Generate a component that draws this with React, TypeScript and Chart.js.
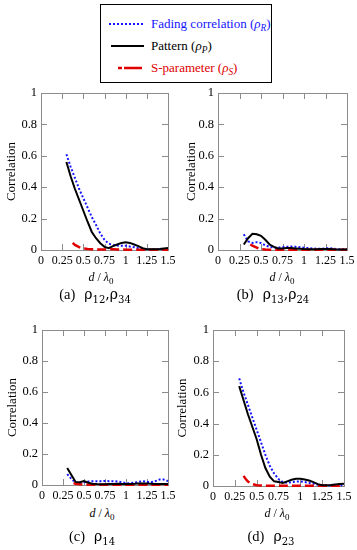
import React, { useEffect, useRef } from 'react';
import { Chart, registerables } from 'chart.js';

Chart.register(...registerables);

// ---------- data ----------
const spacingX = [0.3, 0.35, 0.4, 0.45, 0.5, 0.55, 0.6, 0.65, 0.7, 0.75, 0.8, 0.85, 0.9, 0.95, 1.0, 1.05, 1.1, 1.15, 1.2, 1.25, 1.3, 1.35, 1.4, 1.45, 1.5];
const sParamX = [0.35, 0.375, 0.4, 0.45, 0.5, 0.55, 0.6, 0.65, 0.7, 0.75, 0.8, 0.85, 0.9, 0.95, 1.0, 1.05, 1.1, 1.15, 1.2, 1.25, 1.3, 1.35, 1.4, 1.45, 1.5];
const xTickLabels = ['0', '0.25', '0.5', '0.75', '1', '1.25', '1.5'];
const yTickLabels = ['0', '0.2', '0.4', '0.6', '0.8', '1'];

// (a) rho12, rho34
const fadingA = [0.61, 0.53, 0.46, 0.39, 0.33, 0.27, 0.21, 0.16, 0.105, 0.065, 0.04, 0.032, 0.028, 0.027, 0.027, 0.022, 0.018, 0.012, 0.008, 0.005, 0.004, 0.004, 0.004, 0.005, 0.006];
const patternA = [0.56, 0.47, 0.39, 0.32, 0.25, 0.18, 0.115, 0.075, 0.043, 0.02, 0.012, 0.025, 0.035, 0.045, 0.05, 0.045, 0.035, 0.025, 0.012, 0.005, 0.004, 0.005, 0.006, 0.01, 0.012];
const sParamA = [null, 0.045, 0.032, 0.018, 0.01, 0.007, 0.005, 0.004, 0.003, 0.003, 0.004, 0.004, 0.003, 0.003, 0.002, 0.002, 0.002, 0.002, 0.001, 0.001, 0.001, 0.001, 0.001, 0.001, 0.001];

// (b) rho13, rho24
const fadingB = [0.1, 0.055, 0.045, 0.05, 0.045, 0.03, 0.02, 0.015, 0.015, 0.018, 0.02, 0.022, 0.02, 0.018, 0.015, 0.012, 0.01, 0.008, 0.008, 0.01, 0.012, 0.008, 0.005, 0.005, 0.006];
const patternB = [0.035, 0.075, 0.103, 0.1, 0.09, 0.065, 0.035, 0.02, 0.01, 0.01, 0.012, 0.012, 0.01, 0.008, 0.006, 0.005, 0.005, 0.005, 0.006, 0.007, 0.006, 0.004, 0.003, 0.003, 0.003];
const sParamB = [null, 0.035, 0.028, 0.015, 0.005, 0.003, 0.002, 0.002, 0.001, 0.001, 0.002, 0.002, 0.001, 0.001, 0.001, 0.001, 0.001, 0.001, 0.001, 0.001, 0.001, 0.001, 0.001, 0.001, 0.001];

// (c) rho14
const fadingC = [0.07, 0.04, 0.015, 0.012, 0.018, 0.022, 0.025, 0.025, 0.025, 0.026, 0.025, 0.025, 0.022, 0.018, 0.012, 0.012, 0.015, 0.02, 0.025, 0.02, 0.018, 0.025, 0.035, 0.035, 0.025];
const patternC = [0.11, 0.065, 0.02, 0.018, 0.025, 0.015, 0.008, 0.006, 0.005, 0.005, 0.006, 0.007, 0.008, 0.007, 0.006, 0.007, 0.008, 0.01, 0.01, 0.009, 0.008, 0.007, 0.007, 0.007, 0.006];
const sParamC = [null, 0.012, 0.008, 0.005, 0.003, 0.002, 0.002, 0.001, 0.001, 0.001, 0.001, 0.001, 0.001, 0.001, 0.001, 0.001, 0.001, 0.001, 0.001, 0.001, 0.001, 0.001, 0.001, 0.001, 0.001];

// (d) rho23
const fadingD = [0.69, 0.6, 0.52, 0.44, 0.36, 0.28, 0.2, 0.13, 0.08, 0.045, 0.025, 0.02, 0.025, 0.028, 0.03, 0.025, 0.02, 0.014, 0.008, 0.005, 0.003, 0.003, 0.003, 0.004, 0.005];
const patternD = [0.64, 0.55, 0.46, 0.38, 0.3, 0.2, 0.115, 0.06, 0.03, 0.025, 0.02, 0.03, 0.04, 0.047, 0.047, 0.042, 0.035, 0.025, 0.012, 0.005, 0.005, 0.007, 0.01, 0.013, 0.015];
const sParamD = [0.065, 0.045, 0.028, 0.012, 0.005, 0.003, 0.002, 0.002, 0.001, 0.001, 0.002, 0.002, 0.001, 0.001, 0.001, 0.001, 0.001, 0.001, 0.001, 0.001, 0.001, 0.001, 0.001, 0.001, 0.001];

// ---------- styles ----------
const SERIF = '"Liberation Serif", "Times New Roman", Tinos, serif';
const MATH = '"DejaVu Serif", "Liberation Serif", serif';
const BLUE = '#1414ff';
const RED = '#e00000';
const AXIS_GRAY = '#8c8c8c';

const boxPlugin = {
  id: 'boxTicks',
  beforeDatasetsDraw(chart: any) {
    const { ctx, chartArea, scales } = chart;
    const { left, right, top, bottom } = chartArea;
    const xs = scales.x;
    const ys = scales.y;
    const len = 6;
    ctx.save();
    ctx.strokeStyle = AXIS_GRAY;
    ctx.lineWidth = 1;
    ctx.strokeRect(Math.round(left) + 0.5, Math.round(top) + 0.5, Math.round(right - left), Math.round(bottom - top));
    ctx.beginPath();
    xs.ticks.forEach((t: any) => {
      const px = Math.round(xs.getPixelForValue(t.value)) + 0.5;
      ctx.moveTo(px, top);
      ctx.lineTo(px, top + len);
      ctx.moveTo(px, bottom);
      ctx.lineTo(px, bottom - len);
    });
    ys.ticks.forEach((t: any) => {
      const py = Math.round(ys.getPixelForValue(t.value)) + 0.5;
      ctx.moveTo(left, py);
      ctx.lineTo(left + len, py);
      ctx.moveTo(right, py);
      ctx.lineTo(right - len, py);
    });
    ctx.stroke();
    ctx.restore();
  },
};

type PanelProps = {
  left: number; top: number; width: number; height: number;
  yAxisWidth: number; padTop: number; padRight: number; xAxisHeight: number;
  fading: (number | null)[]; pattern: (number | null)[]; sParam: (number | null)[];
};

function Panel(p: PanelProps) {
  const ref = useRef<HTMLCanvasElement>(null);
  useEffect(() => {
    if (!ref.current) return;
    const chart = new Chart(ref.current, {
      type: 'line',
      data: {
        datasets: [
          {
            label: 'Pattern',
            data: spacingX.map((x, i) => ({ x, y: p.pattern[i] })) as any,
            borderColor: '#000000',
            borderWidth: 2,
            pointRadius: 0,
            fill: false,
            tension: 0,
            clip: false as any,
            order: 0,
          },
          {
            label: 'S-parameter',
            data: sParamX.map((x, i) => ({ x, y: p.sParam[i] })) as any,
            borderColor: RED,
            borderWidth: 2.5,
            borderDash: [9, 4],
            pointRadius: 0,
            fill: false,
            tension: 0,
            clip: false as any,
            order: 1,
          },
          {
            label: 'Fading correlation',
            data: spacingX.map((x, i) => ({ x, y: p.fading[i] })) as any,
            borderColor: BLUE,
            borderWidth: 2,
            borderDash: [2, 2],
            pointRadius: 0,
            fill: false,
            tension: 0,
            clip: false as any,
            order: 2,
          },
        ],
      },
      options: {
        responsive: false,
        animation: false,
        events: [],
        layout: { padding: { top: p.padTop, right: p.padRight, left: 0, bottom: 0 } },
        plugins: { legend: { display: false }, tooltip: { enabled: false } },
        scales: {
          x: {
            type: 'linear',
            min: 0,
            max: 1.5,
            grid: { display: false, drawTicks: false },
            border: { display: false },
            ticks: {
              stepSize: 0.25,
              autoSkip: false,
              maxRotation: 0,
              minRotation: 0,
              padding: 4,
              color: '#000',
              font: { family: SERIF, size: 12 },
              callback: (_v: any, i: number) => xTickLabels[i],
            },
            afterFit: (s: any) => {
              s.height = p.xAxisHeight;
              s.paddingLeft = 0;
              s.paddingRight = 0;
            },
          },
          y: {
            type: 'linear',
            min: 0,
            max: 1,
            grid: { display: false, drawTicks: false },
            border: { display: false },
            ticks: {
              stepSize: 0.2,
              autoSkip: false,
              padding: 4,
              color: '#000',
              font: { family: SERIF, size: 12.5 },
              callback: (_v: any, i: number) => yTickLabels[i],
            },
            title: {
              display: true,
              text: 'Correlation',
              color: '#000',
              font: { family: SERIF, size: 13 },
              padding: { top: 4, bottom: 0 },
            },
            afterFit: (s: any) => {
              s.width = p.yAxisWidth;
              s.paddingTop = 0;
              s.paddingBottom = 0;
            },
          },
        },
      } as any,
      plugins: [boxPlugin],
    });
    let alive = true;
    const fs: any = (document as any).fonts;
    if (fs && fs.load) {
      Promise.all([fs.load('12px "Liberation Serif"'), fs.load('13px "Liberation Serif"')])
        .then(() => { if (alive) chart.update('none'); })
        .catch(() => {});
    }
    return () => { alive = false; chart.destroy(); };
  }, []);
  return (
    <canvas
      ref={ref}
      width={p.width}
      height={p.height}
      style={{ position: 'absolute', left: p.left, top: p.top, width: p.width, height: p.height }}
    />
  );
}

function XTitle({ cx, cy }: { cx: number; cy: number }) {
  return (
    <div style={{ position: 'absolute', left: cx - 40, top: cy - 8, width: 80, height: 16, lineHeight: '16px', textAlign: 'center', fontFamily: SERIF, fontSize: 12, color: '#000', whiteSpace: 'nowrap' }}>
      <i>d</i> / <i>λ</i><sub style={{ fontSize: '0.75em', verticalAlign: '-0.3em', lineHeight: 0 }}>0</sub>
    </div>
  );
}

const subStyle: React.CSSProperties = { fontSize: '0.72em', verticalAlign: '-0.35em', lineHeight: 0 };

function Caption({ cx, cy, tag, subs }: { cx: number; cy: number; tag: string; subs: string[] }) {
  return (
    <div style={{ position: 'absolute', left: cx - 70, top: cy - 9, width: 140, height: 18, lineHeight: '18px', textAlign: 'center', color: '#000', whiteSpace: 'nowrap' }}>
      <span style={{ fontFamily: SERIF, fontSize: 14.5 }}>{tag}</span>
      <span style={{ fontFamily: MATH, fontSize: 14, marginLeft: 9 }}>
        {subs.map((s, i) => (
          <React.Fragment key={i}>
            {i > 0 ? ',' : ''}ρ<sub style={subStyle}>{s}</sub>
          </React.Fragment>
        ))}
      </span>
    </div>
  );
}

function LegendRow({ y, color, dash, width, text, sub, x1 }: { y: number; color: string; dash: string; width: number; text: string; sub: string; x1: number }) {
  return (
    <>
      <svg style={{ position: 'absolute', left: 0, top: y - 5, width: 50, height: 10 }} width={50} height={10}>
        <line x1={x1} y1={5} x2={43} y2={5} stroke={color} strokeWidth={width} strokeDasharray={dash} />
      </svg>
      <div style={{ position: 'absolute', left: 50, top: y - 9, height: 18, lineHeight: '18px', fontFamily: SERIF, fontSize: 13, color, whiteSpace: 'nowrap' }}>
        {text} (<i>ρ</i><sub style={subStyle}><i>{sub}</i></sub>)
      </div>
    </>
  );
}

export default function App() {
  return (
    <div style={{ position: 'absolute', left: 0, top: 0, width: 357, height: 550, background: '#fff', overflow: 'hidden' }}>
      {/* legend box */}
      <div style={{ position: 'absolute', left: 100, top: 4, width: 172, height: 79, border: '1px solid #000', boxSizing: 'border-box' }}>
        <LegendRow y={19} color={BLUE} dash="2 2" width={2} text="Fading correlation" sub="R" x1={8} />
        <LegendRow y={41} color="#000" dash="" width={2} text="Pattern" sub="P" x1={10} />
        <LegendRow y={63} color={RED} dash="4 2 14 0" width={2.5} text="S-parameter" sub="S" x1={17} />
      </div>

      <Panel left={0} top={85} width={178} height={185} yAxisWidth={41} padTop={8} padRight={10} xAxisHeight={20}
        fading={fadingA} pattern={patternA} sParam={sParamA} />
      <Panel left={180} top={85} width={177} height={185} yAxisWidth={38} padTop={8} padRight={10} xAxisHeight={20}
        fading={fadingB} pattern={patternB} sParam={sParamB} />
      <Panel left={1} top={322} width={177} height={183} yAxisWidth={41} padTop={8} padRight={10} xAxisHeight={20}
        fading={fadingC} pattern={patternC} sParam={sParamC} />
      <Panel left={171} top={322} width={183} height={184} yAxisWidth={42} padTop={8} padRight={10} xAxisHeight={20}
        fading={fadingD} pattern={patternD} sParam={sParamD} />

      <XTitle cx={101} cy={277} />
      <XTitle cx={282} cy={277} />
      <XTitle cx={102} cy={513} />
      <XTitle cx={277} cy={513} />

      <Caption cx={95} cy={294} tag="(a)" subs={['12', '34']} />
      <Caption cx={273} cy={294} tag="(b)" subs={['13', '24']} />
      <Caption cx={92} cy={536} tag="(c)" subs={['14']} />
      <Caption cx={271} cy={536} tag="(d)" subs={['23']} />
    </div>
  );
}
